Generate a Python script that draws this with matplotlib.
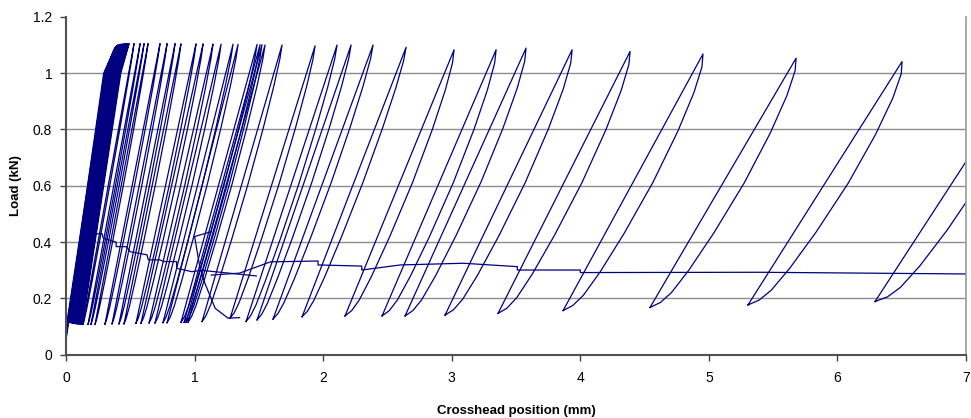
import numpy as np
import matplotlib
matplotlib.use("Agg")
import matplotlib.pyplot as plt

plt.rcParams['font.family'] = ['Liberation Sans', 'DejaVu Sans']

# ---- data (mm, kN) ----
# early, closely packed cycles: valley, knee (at 1.0 kN) and peak positions
early_valley_x = [0.0, 0.008, 0.016, 0.024, 0.031, 0.039, 0.047, 0.055, 0.062, 0.070,
                  0.078, 0.086, 0.093, 0.101, 0.109, 0.117, 0.124]
early_valley_y = [0.065, 0.118, 0.117, 0.116, 0.115, 0.114, 0.113, 0.112, 0.112, 0.111,
                  0.111, 0.11, 0.11, 0.11, 0.109, 0.109, 0.108]
early_knee_x = [0.293, 0.301, 0.309, 0.316, 0.324, 0.332, 0.340, 0.348, 0.356, 0.364,
                0.372, 0.380, 0.388, 0.396, 0.404, 0.412, 0.420]
early_peak_x = [0.380, 0.387, 0.394, 0.401, 0.408, 0.415, 0.422, 0.429, 0.436, 0.443,
                0.450, 0.457, 0.464, 0.471, 0.478, 0.485, 0.490]
early_peak_y = [1.09, 1.095, 1.098, 1.10, 1.10, 1.102, 1.102, 1.103, 1.103, 1.104,
                1.104, 1.104, 1.105, 1.105, 1.105, 1.105, 1.105]

# later unload/reload loops: valley point, peak point, max loop width
valley_x = [0.132, 0.171, 0.194, 0.226, 0.303, 0.358, 0.412, 0.451, 0.544, 0.583, 0.646,
            0.692, 0.754, 0.786, 0.894, 0.918, 0.933, 0.949, 1.058, 1.276, 1.400, 1.486,
            1.610, 1.836, 2.170, 2.458, 2.637, 2.948, 3.360, 3.866, 4.542, 5.304, 6.292]
valley_y = [0.108, 0.108, 0.108, 0.109, 0.109, 0.11, 0.11, 0.11, 0.112, 0.112, 0.113,
            0.113, 0.114, 0.114, 0.115, 0.115, 0.115, 0.116, 0.118, 0.13, 0.118, 0.124,
            0.127, 0.135, 0.138, 0.138, 0.138, 0.141, 0.147, 0.157, 0.168, 0.177, 0.189]
peak_x = [0.529, 0.576, 0.607, 0.638, 0.731, 0.786, 0.848, 0.894, 1.011, 1.066, 1.143,
          1.206, 1.299, 1.338, 1.486, 1.509, 1.524, 1.548, 1.680, 1.937, 2.108, 2.217,
          2.388, 2.645, 3.018, 3.345, 3.578, 3.936, 4.387, 4.954, 5.678, 6.502, 7.49]
peak_y = [1.105, 1.105, 1.105, 1.105, 1.105, 1.105, 1.105, 1.104, 1.104, 1.104, 1.103,
          1.103, 1.103, 1.102, 1.102, 1.101, 1.101, 1.10, 1.10, 1.097, 1.10, 1.10,
          1.10, 1.092, 1.083, 1.083, 1.089, 1.083, 1.077, 1.068, 1.053, 1.041, 1.03]
loop_width = [0.012, 0.014, 0.015, 0.016, 0.018, 0.02, 0.022, 0.024, 0.028, 0.03, 0.032,
              0.034, 0.036, 0.038, 0.042, 0.042, 0.043, 0.044, 0.048, 0.055, 0.058, 0.06,
              0.065, 0.07, 0.10, 0.11, 0.12, 0.13, 0.14, 0.155, 0.165, 0.18, 0.21]

# low-load transfer path between cycles
conn1_x = [0.21, 0.28, 0.29, 0.39, 0.39, 0.47, 0.50, 0.63, 0.64, 0.73, 0.76, 0.86, 0.86, 0.98, 1.05, 1.48]
conn1_y = [0.43, 0.43, 0.414, 0.40, 0.384, 0.384, 0.366, 0.355, 0.337, 0.337, 0.331, 0.331, 0.307, 0.295, 0.30, 0.28]
conn2_x = [1.13, 1.00, 1.04, 1.08, 1.16, 1.26, 1.35]
conn2_y = [0.437, 0.42, 0.313, 0.254, 0.165, 0.13, 0.132]
conn3_x = [1.13, 1.35, 1.59, 1.96, 1.96, 2.30, 2.30, 2.60, 3.09, 3.51, 3.51, 4.00, 4.00, 5.40, 7.0]
conn3_y = [0.283, 0.29, 0.33, 0.333, 0.319, 0.315, 0.301, 0.319, 0.325, 0.313, 0.301, 0.301, 0.292, 0.293, 0.287]

x_ticks = [0, 1, 2, 3, 4, 5, 6, 7]
y_ticks = [0, 0.2, 0.4, 0.6, 0.8, 1, 1.2]
y_tick_labels = ['0', '0.2', '0.4', '0.6', '0.8', '1', '1.2']

# ---- drawing ----
LINE = '#000080'
LW = 0.9
fig = plt.figure(figsize=(9.71, 4.18), dpi=100)
ax = fig.add_axes([0.068, 0.1512, 0.9269, 0.8086])

# early cycles: valley -> knee -> peak and back slightly to the right
for xv, yv, xk, xp, yp in zip(early_valley_x, early_valley_y, early_knee_x,
                              early_peak_x, early_peak_y):
    ax.plot([xv, xk, xp, xk + 0.006, xv + 0.004], [yv, 1.0, yp, 1.0, yv],
            color=LINE, lw=LW, solid_joinstyle='round')

# loop shape profile (fraction of height, fraction of width) for the returning branch
t_prof = np.array([1.0, 0.95, 0.85, 0.7, 0.5, 0.3, 0.15, 0.06, 0.02, 0.0])
w_prof = np.array([0.0, 0.3, 0.6, 0.85, 1.0, 0.95, 0.8, 0.6, 0.35, 0.0])

for xv, yv, xp, yp, w in zip(valley_x, valley_y, peak_x, peak_y, loop_width):
    xs = [xv, xp]
    ys = [yv, yp]
    xs += list(xv + (xp - xv) * t_prof + w * w_prof)
    ys += list(yv + (yp - yv) * t_prof)
    ax.plot(xs, ys, color=LINE, lw=LW, solid_joinstyle='round')

for cx, cy in ((conn1_x, conn1_y), (conn2_x, conn2_y), (conn3_x, conn3_y)):
    ax.plot(cx, cy, color=LINE, lw=LW)

ax.set_xlim(0, 7)
ax.set_ylim(0, 1.2)
ax.set_xticks(x_ticks)
ax.set_xticklabels([str(v) for v in x_ticks])
ax.set_yticks(y_ticks)
ax.set_yticklabels(y_tick_labels)
ax.tick_params(axis='both', labelsize=10, direction='out', length=4, width=1,
               color='#404040')
ax.tick_params(axis='y', pad=6)
ax.tick_params(axis='x', pad=8)

for yv in y_ticks[1:-1]:
    ax.axhline(yv, color='#8c8c8c', lw=1.0, zorder=0)

ax.spines['top'].set_visible(False)
ax.spines['right'].set_color('#9a9a9a')
ax.spines['right'].set_linewidth(1.2)
ax.spines['left'].set_color('#505050')
ax.spines['left'].set_linewidth(1.5)
ax.spines['bottom'].set_color('#505050')
ax.spines['bottom'].set_linewidth(1.5)

ax.set_xlabel('Crosshead position (mm)', fontsize=9.5, fontweight='bold', labelpad=14)
ax.set_ylabel('Load (kN)', fontsize=9.5, fontweight='bold', labelpad=8)

fig.savefig('out.png', dpi=100)
